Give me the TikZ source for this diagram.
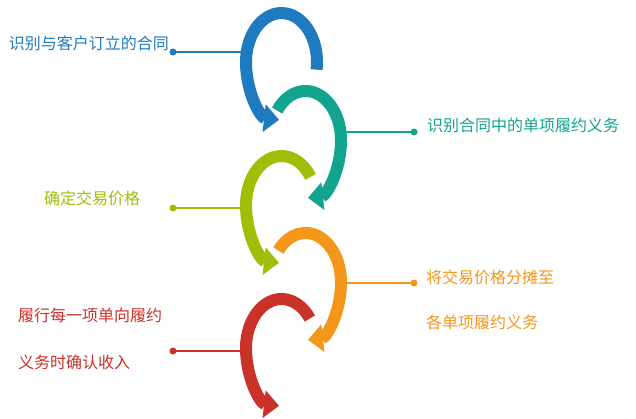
\documentclass[tikz,border=0pt]{standalone}
\usepackage{fontspec}
\newfontfamily\cjk{Noto Sans CJK SC}
\usetikzlibrary{arrows.meta}

\definecolor{stepblue}{RGB}{31,123,192}
\definecolor{stepteal}{RGB}{18,164,142}
\definecolor{stepgreen}{RGB}{158,190,8}
\definecolor{steporange}{RGB}{244,150,26}
\definecolor{stepred}{RGB}{200,50,40}

\tikzset{
    ring/.style={line width=12pt, -{Triangle[length=15pt,width=27pt]},
        preaction={draw=white, line width=15pt, -{Triangle[length=17pt,width=32pt]}}},
    conn/.style={line width=2pt},
    dot/.style={circle, fill, inner sep=0pt, minimum size=7pt},
    steptext/.style={inner sep=0pt, font=\cjk\fontsize{16}{45}\selectfont, align=left},
}

\begin{document}
\begin{tikzpicture}[x=1pt, y=1pt]
    \useasboundingbox (0,0) rectangle (636,418);

    % centres of the rings
    \coordinate (cblue) at (281.5,356);
    \coordinate (cteal) at (305.5,278);
    \coordinate (cgreen) at (281.5,213);
    \coordinate (corange) at (305.5,136);
    \coordinate (cred) at (281.5,70);

    % rings, last step first
    \draw[ring, stepred] (cred) ++(37:35.5 and 49)
        arc[start angle=37, end angle=180, x radius=35.5, y radius=49]
        arc[start angle=180, end angle=266, x radius=35.5, y radius=58];
    \draw[ring, steporange] (corange) ++(140:35.5 and 49)
        arc[start angle=140, end angle=0, x radius=35.5, y radius=49]
        arc[start angle=0, end angle=-86, x radius=35.5, y radius=58];
    \draw[ring, stepgreen] (cgreen) ++(35:35.5 and 49)
        arc[start angle=35, end angle=180, x radius=35.5, y radius=49]
        arc[start angle=180, end angle=266, x radius=35.5, y radius=58];
    \draw[ring, stepteal] (cteal) ++(143:35.5 and 49)
        arc[start angle=143, end angle=0, x radius=35.5, y radius=49]
        arc[start angle=0, end angle=-86, x radius=35.5, y radius=58];
    \draw[ring, stepblue] (cblue) ++(-9:35.5 and 49)
        arc[start angle=-9, end angle=180, x radius=35.5, y radius=49]
        arc[start angle=180, end angle=266, x radius=35.5, y radius=58];

    % connectors
    \coordinate (eblue) at (241,366);
    \coordinate (eteal) at (346,286);
    \coordinate (egreen) at (241,210);
    \coordinate (eorange) at (346,135);
    \coordinate (ered) at (241,67);
    \node[dot, stepblue] (dblue) at (173,366) {};
    \node[dot, stepteal] (dteal) at (414,286) {};
    \node[dot, stepgreen] (dgreen) at (173,210) {};
    \node[dot, steporange] (dorange) at (414,135) {};
    \node[dot, stepred] (dred) at (173,67) {};
    \draw[conn, stepblue] (dblue.center) -- (eblue);
    \draw[conn, stepteal] (dteal.center) -- (eteal);
    \draw[conn, stepgreen] (dgreen.center) -- (egreen);
    \draw[conn, steporange] (dorange.center) -- (eorange);
    \draw[conn, stepred] (dred.center) -- (ered);

    % labels
    \node[steptext, text=stepblue, anchor=east] (tblue) at (169,375) {识别与客户订立的合同};
    \node[steptext, text=stepteal, anchor=west] (tteal) at (427,293) {识别合同中的单项履约义务};
    \node[steptext, text=stepgreen, anchor=west] (tgreen) at (44,220) {确定交易价格};
    \node[steptext, text=steporange, anchor=west] (torange) at (426,118.5) {将交易价格分摊至\\各单项履约义务};
    \node[steptext, text=stepred, anchor=west] (tred) at (18,79.5) {履行每一项单向履约\\[2pt]义务时确认收入};
\end{tikzpicture}
\end{document}
